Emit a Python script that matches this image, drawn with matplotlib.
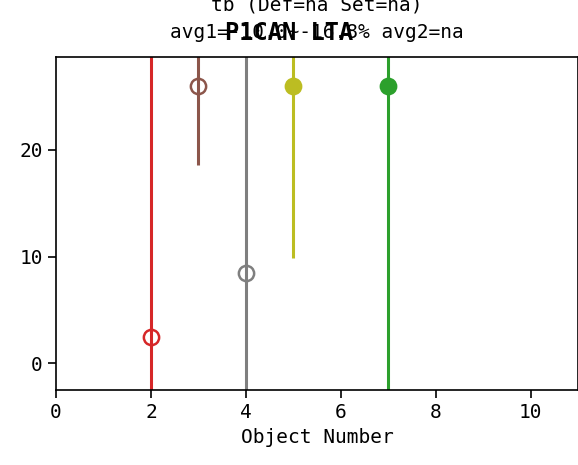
import matplotlib
matplotlib.use("Agg")
import matplotlib.pyplot as plt
import numpy as np

# data
obj_num = [2, 3, 4, 5, 7]
values = [2.5, 26.0, 8.5, 26.0, 26.0]
err_low = [6.0, 7.4, 12.0, 16.1, 30.0]
err_high = [30.0, 5.0, 25.0, 5.0, 5.0]
colors = ['tab:red', 'tab:brown', 'tab:gray', 'tab:olive', 'tab:green']
filled = [False, False, False, True, True]

plt.rcParams['font.family'] = ['DejaVu Sans Mono']
plt.rcParams['font.size'] = 14

fig = plt.figure(figsize=(5.78, 4.65), dpi=100, facecolor='white')
ax = fig.add_axes([56 / 578, 75 / 465, 522 / 578, 333 / 465])

for x, y, lo, hi, c, f in zip(obj_num, values, err_low, err_high, colors, filled):
    ax.errorbar([x], [y], yerr=[[lo], [hi]], fmt='o', color=c, ecolor=c,
                elinewidth=2.2, capsize=0, markersize=11, markeredgewidth=1.8,
                markerfacecolor=c if f else 'none', markeredgecolor=c)

ax.set_xlim(0, 11)
ax.set_ylim(-2.5, 28.7)
ax.set_xticks(np.arange(0, 11, 2))
ax.set_yticks([0, 10, 20])
ax.tick_params(direction='out', length=6, width=1.2)
for s in ax.spines.values():
    s.set_linewidth(1.2)
ax.set_xlabel('Object Number')

ax.set_title('tb (Def=na Set=na)\navg1=-10.0~-16.8% avg2=na', fontsize=14,
             pad=14, linespacing=1.55)
fig.text(0.5, 0.928, 'P1CAN LTA', ha='center', va='center', fontsize=17,
         fontweight='bold', family=['DejaVu Sans Mono'])

fig.savefig('out.png', dpi=100)
